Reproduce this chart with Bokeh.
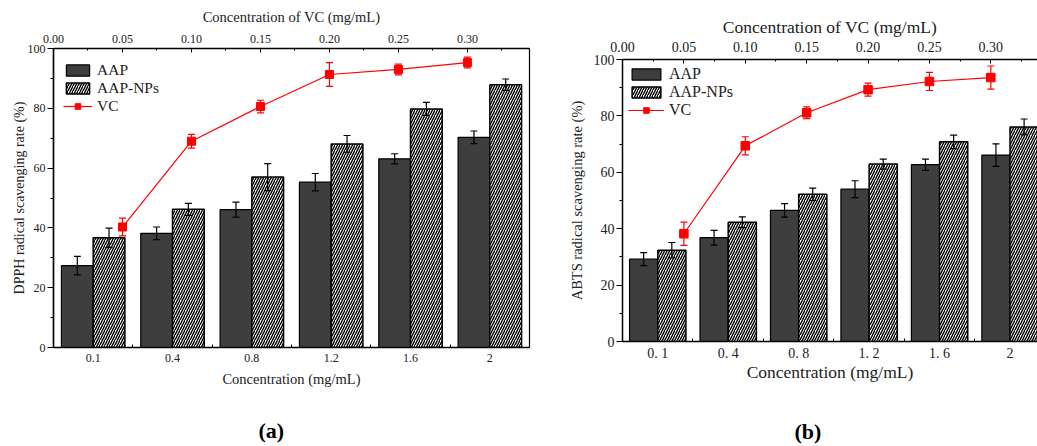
import numpy as np
from bokeh.plotting import figure
from bokeh.models import (ColumnDataSource, Range1d, LinearAxis, FixedTicker, SingleIntervalTicker,
                          Whisker, TeeHead, Legend, LegendItem, Title, NumeralTickFormatter)
from bokeh.layouts import row
from bokeh.embed import file_html
from bokeh.resources import INLINE

# ---------------- data ----------------
concentrations_a = ["0.1", "0.4", "0.8", "1.2", "1.6", "2"]
concentrations_b = ["0. 1", "0. 4", "0. 8", "1. 2", "1. 6", "2"]
vc_conc = [0.05, 0.10, 0.15, 0.20, 0.25, 0.30]

dpph_aap = [27.4, 38.2, 46.1, 55.3, 63.1, 70.3]
dpph_aap_err = [3.1, 2.1, 2.5, 2.9, 1.7, 2.1]
dpph_np = [36.7, 46.2, 57.0, 68.1, 79.8, 87.9]
dpph_np_err = [3.2, 2.0, 4.5, 2.8, 2.2, 1.9]
dpph_vc = [40.3, 69.0, 80.6, 91.3, 93.0, 95.3]
dpph_vc_err = [3.0, 2.3, 2.1, 4.0, 1.8, 1.8]

abts_aap = [29.2, 36.8, 46.5, 54.0, 62.7, 66.1]
abts_aap_err = [2.3, 2.6, 2.4, 3.0, 2.0, 4.0]
abts_np = [32.4, 42.3, 52.2, 62.9, 70.8, 76.1]
abts_np_err = [2.7, 1.9, 2.2, 1.8, 2.4, 2.8]
abts_vc = [38.2, 69.4, 81.1, 89.3, 92.2, 93.6]
abts_vc_err = [4.1, 3.2, 2.1, 2.3, 3.2, 4.1]

FONT = "Liberation Serif"
DARK = "#3e3e3e"


def panel(cats, aap, aap_e, nps, nps_e, vc, vc_e, ylab, tag,
          width, x_end, vc_end, mbl, mbr, mbt, mbb,
          fs_tick, fs_xtitle, fs_ytitle, fs_leg, glyph_w, leg_loc, outline, cap, msize,
          top_std, bot_std, left_std, tag_offset, spacer_std):
    n = len(cats)
    xs = np.arange(n) + 0.5
    p = figure(width=width, height=446, x_range=Range1d(0, x_end), y_range=Range1d(0, 100),
               output_backend="svg", toolbar_location=None,
               min_border_left=mbl, min_border_right=mbr, min_border_top=mbt, min_border_bottom=mbb)
    p.frame_align = False
    p.grid.visible = False
    p.outline_line_color = "black" if outline else None
    p.outline_line_width = 1.2

    src = ColumnDataSource(dict(
        xa=xs - 0.2, xn=xs + 0.2,
        aap=aap, aap_lo=[v - e for v, e in zip(aap, aap_e)], aap_hi=[v + e for v, e in zip(aap, aap_e)],
        nps=nps, nps_lo=[v - e for v, e in zip(nps, nps_e)], nps_hi=[v + e for v, e in zip(nps, nps_e)],
    ))
    r_a = p.vbar(x="xa", top="aap", width=0.4, bottom=0, source=src,
                 fill_color=DARK, line_color="black", line_width=1.2)
    r_n = p.vbar(x="xn", top="nps", width=0.4, bottom=0, source=src,
                 fill_color="white", line_color="black", line_width=1.5,
                 hatch_pattern="/", hatch_color="black", hatch_scale=5, hatch_weight=1.4)
    for base, lo, hi in (("xa", "aap_lo", "aap_hi"), ("xn", "nps_lo", "nps_hi")):
        p.add_layout(Whisker(base=base, lower=lo, upper=hi, source=src, level="annotation",
                             line_color="black", line_width=1.2,
                             upper_head=TeeHead(size=cap, line_color="black", line_width=1.2),
                             lower_head=TeeHead(size=cap, line_color="black", line_width=1.2)))

    # VC on the top axis
    p.extra_x_ranges = {"vc": Range1d(0, vc_end)}
    vsrc = ColumnDataSource(dict(x=vc_conc, y=vc,
                                 lo=[v - e for v, e in zip(vc, vc_e)],
                                 hi=[v + e for v, e in zip(vc, vc_e)]))
    r_l = p.line("x", "y", source=vsrc, x_range_name="vc", line_color="red", line_width=1.2)
    p.add_layout(Whisker(base="x", lower="lo", upper="hi", source=vsrc, x_range_name="vc",
                         level="annotation", line_color="red", line_width=1.2,
                         upper_head=TeeHead(size=cap, line_color="red", line_width=1.2),
                         lower_head=TeeHead(size=cap, line_color="red", line_width=1.2)))
    r_s = p.scatter("x", "y", source=vsrc, x_range_name="vc", marker="square", size=msize,
                    fill_color="red", line_color="red")

    # bottom axis
    xa = p.xaxis[0]
    xa.ticker = FixedTicker(ticks=list(xs), minor_ticks=list(range(n + 1)))
    xa.major_label_overrides = {float(x): c for x, c in zip(xs, cats)}
    xa.major_tick_in = 0
    xa.major_tick_out = 0
    xa.minor_tick_in = 3
    xa.minor_tick_out = 0
    xa.axis_label = "Concentration (mg/mL)"

    # left axis
    ya = p.yaxis[0]
    ya.ticker = SingleIntervalTicker(interval=20, num_minor_ticks=2)
    ya.major_tick_out = 6
    ya.major_tick_in = 0
    ya.minor_tick_out = 3
    ya.minor_tick_in = 0
    ya.axis_label = ylab

    # top axis
    ta = LinearAxis(x_range_name="vc", ticker=SingleIntervalTicker(interval=0.05, num_minor_ticks=2),
                    formatter=NumeralTickFormatter(format="0.00"),
                    axis_label="Concentration of VC (mg/mL)")
    ta.major_tick_in = 4
    ta.major_tick_out = 0
    ta.minor_tick_in = 2
    ta.minor_tick_out = 0
    p.add_layout(ta, "above")

    for ax in (xa, ya, ta):
        ax.axis_line_width = 1.5
        ax.axis_line_color = "black"
        ax.major_tick_line_color = "black"
        ax.minor_tick_line_color = "black"
        ax.major_label_text_font = FONT
        ax.major_label_text_font_size = fs_tick
        ax.major_label_text_color = "#222222"
        ax.axis_label_text_font = FONT
        ax.axis_label_text_font_style = "normal"
        ax.axis_label_text_color = "#222222"
    xa.axis_label_text_font_size = fs_xtitle
    ta.axis_label_text_font_size = fs_xtitle
    ya.axis_label_text_font_size = fs_ytitle
    ta.major_label_standoff, ta.axis_label_standoff = top_std
    xa.major_label_standoff, xa.axis_label_standoff = bot_std
    ya.major_label_standoff, ya.axis_label_standoff = left_std

    legend = Legend(items=[LegendItem(label="AAP", renderers=[r_a]),
                           LegendItem(label="AAP-NPs", renderers=[r_n]),
                           LegendItem(label="VC", renderers=[r_l, r_s])],
                    location=leg_loc, border_line_color=None, background_fill_alpha=0,
                    glyph_width=glyph_w, glyph_height=14, label_height=14, spacing=0,
                    padding=0, margin=0, label_standoff=5,
                    label_text_font=FONT, label_text_font_size=fs_leg, label_text_color="#222222")
    p.add_layout(legend)

    # spacer + panel tag below the bottom axis
    p.add_layout(Title(text=" ", text_font=FONT, text_font_size="10px", standoff=spacer_std), "below")
    p.add_layout(Title(text=tag, align="left", offset=tag_offset, standoff=0,
                       text_font=FONT, text_font_style="bold", text_font_size="22px",
                       text_color="black"), "below")
    return p


pa = panel(concentrations_a, dpph_aap, dpph_aap_err, dpph_np, dpph_np_err, dpph_vc, dpph_vc_err,
           "DPPH radical scavenging rate (%)", "(a)",
           width=565, x_end=6.0, vc_end=0.345, mbl=53, mbr=36, mbt=48, mbb=99,
           fs_tick="12px", fs_xtitle="14.5px", fs_ytitle="14px", fs_leg="15.5px",
           glyph_w=29, leg_loc=(10, 232), outline=True, cap=7, msize=8,
           top_std=(6, 7), bot_std=(6, 6), left_std=(2, -2), tag_offset=205, spacer_std=13)

pb = panel(concentrations_b, abts_aap, abts_aap_err, abts_np, abts_np_err, abts_vc, abts_vc_err,
           "ABTS radical scavenging rate (%)", "(b)",
           width=472, x_end=5.89, vc_end=0.338, mbl=55, mbr=0, mbt=59, mbb=105,
           fs_tick="14px", fs_xtitle="17.5px", fs_ytitle="14.5px", fs_leg="16px",
           glyph_w=36, leg_loc=(6, 222), outline=False, cap=7, msize=8.5,
           top_std=(8, 2), bot_std=(4, -2), left_std=(2, 6), tag_offset=172, spacer_std=19)

layout = row(pa, pb)
open("out.html", "w").write(file_html(layout, INLINE))
